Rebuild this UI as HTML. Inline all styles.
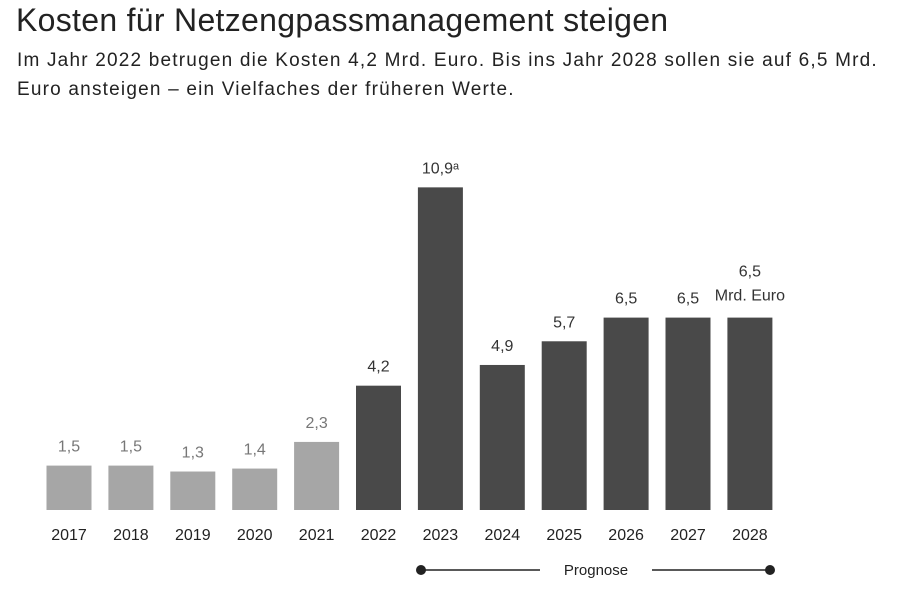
<!DOCTYPE html>
<html><head><meta charset="utf-8"><style>
body{margin:0;width:898px;height:593px;background:#fff;font-family:"Liberation Sans",sans-serif;overflow:hidden;position:relative}
#title{position:absolute;left:16px;top:2px;font-size:32px;color:#222;white-space:nowrap;letter-spacing:0.3px}
#sub{position:absolute;left:17px;top:46px;font-size:19px;line-height:29px;color:#222;width:862px;letter-spacing:1.2px}
svg{position:absolute;left:0;top:0}
</style></head><body>
<div id="title">Kosten für Netzengpassmanagement steigen</div>
<div id="sub">Im Jahr 2022 betrugen die Kosten 4,2 Mrd. Euro. Bis ins Jahr 2028 sollen sie auf 6,5 Mrd. Euro ansteigen – ein Vielfaches der früheren Werte.</div>
<svg id="chart" width="898" height="593"></svg>
<script>
const years=["2017","2018","2019","2020","2021","2022","2023","2024","2025","2026","2027","2028"];
const values=[1.5,1.5,1.3,1.4,2.3,4.2,10.9,4.9,5.7,6.5,6.5,6.5];
const labels=["1,5","1,5","1,3","1,4","2,3","4,2","10,9ᵃ","4,9","5,7","6,5","6,5","6,5"];
const darkFrom=5;
const NS="http://www.w3.org/2000/svg";
const svg=document.getElementById('chart');
const baseY=510,scale=29.6,x0=69,step=61.9,bw=45;
const xs=i=>x0+i*step, ys=v=>baseY-v*scale;
function mk(t,a){const e=document.createElementNS(NS,t);for(const k in a)e.setAttribute(k,a[k]);svg.appendChild(e);return e;}
values.forEach((v,i)=>{
  const dark=i>=darkFrom;
  const r=mk('rect',{x:xs(i)-bw/2,y:ys(v),width:bw,height:v*scale,fill:dark?'#494949':'#a6a6a6'});
  
  
  const last=i===values.length-1;
  const t=mk('text',{x:xs(i),y:ys(v)-(last?41:14),'text-anchor':'middle','font-size':16,fill:dark?'#333':'#777'});
  t.textContent=labels[i];
  
  
  if(last){const u=mk('text',{x:xs(i),y:ys(v)-17,'text-anchor':'middle','font-size':16,fill:'#333'});u.textContent='Mrd. Euro';
  
  }
  const yl=mk('text',{x:xs(i),y:540,'text-anchor':'middle','font-size':16,fill:'#222'});
  yl.textContent=years[i];
  
  
});
const g=[mk('line',{x1:421,y1:570,x2:540,y2:570,stroke:'#222','stroke-width':1.5}),mk('line',{x1:652,y1:570,x2:770,y2:570,stroke:'#222','stroke-width':1.5}),mk('circle',{cx:421,cy:570,r:5,fill:'#222'}),mk('circle',{cx:770,cy:570,r:5,fill:'#222'})];
g.forEach(e=>{});
const p=mk('text',{x:596,y:575,'text-anchor':'middle','font-size':15,fill:'#222'});p.textContent='Prognose';


</script>
</body></html>
